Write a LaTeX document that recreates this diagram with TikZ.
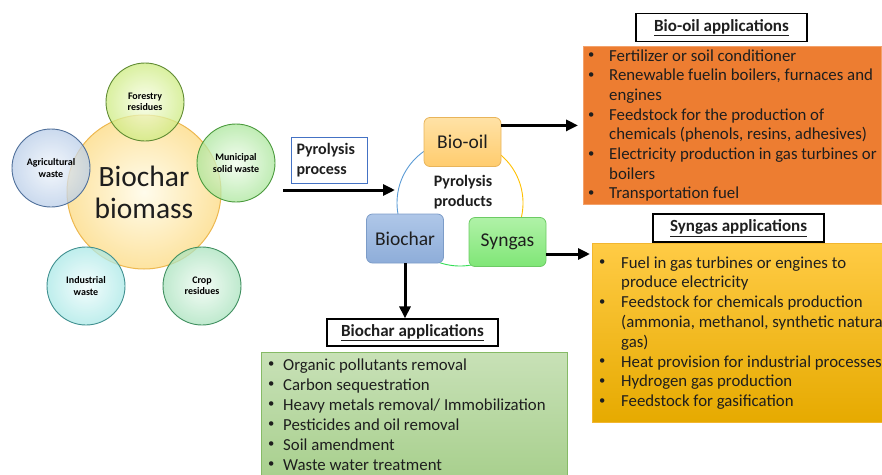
\documentclass[tikz,border=0pt]{standalone}
\usepackage{fontspec}
\setmainfont{Carlito}
\usetikzlibrary{arrows.meta}
\definecolor{mainIn}{HTML}{FFFCEC}
\definecolor{mainOut}{HTML}{FDE3A0}
\definecolor{mainB}{HTML}{EDB850}
\definecolor{forIn}{HTML}{F8FDE6}
\definecolor{forOut}{HTML}{CDEB80}
\definecolor{forB}{HTML}{5F8A32}
\definecolor{munIn}{HTML}{F0FCEC}
\definecolor{munOut}{HTML}{ABE69C}
\definecolor{munB}{HTML}{4A9A3C}
\definecolor{agrIn}{HTML}{F0F5FB}
\definecolor{agrOut}{HTML}{B9CDE8}
\definecolor{agrB}{HTML}{4F6F9A}
\definecolor{indIn}{HTML}{F0FCFC}
\definecolor{indOut}{HTML}{A9E8E6}
\definecolor{indB}{HTML}{3F8F8F}
\definecolor{cropIn}{HTML}{F0FBF3}
\definecolor{cropOut}{HTML}{A9E2BD}
\definecolor{cropB}{HTML}{3F8F5F}
\definecolor{pblue}{HTML}{4472C4}
\definecolor{oilTop}{HTML}{FFE2A6}
\definecolor{oilBot}{HTML}{FFCC6E}
\definecolor{oilB}{HTML}{E8B45A}
\definecolor{charTop}{HTML}{AFC7E8}
\definecolor{charBot}{HTML}{8EADD9}
\definecolor{charB}{HTML}{7C9CC8}
\definecolor{synTop}{HTML}{B0F2A8}
\definecolor{synBot}{HTML}{7FE676}
\definecolor{synB}{HTML}{6CCB64}
\definecolor{cblue}{HTML}{5B9BD5}
\definecolor{corange}{HTML}{FFC000}
\definecolor{cgreen}{HTML}{33DD55}
\definecolor{oilApp}{HTML}{ED7D31}
\definecolor{oilAppB}{HTML}{F3A16A}
\definecolor{synAppTop}{HTML}{FFCB45}
\definecolor{synAppBot}{HTML}{E6AA00}
\definecolor{synAppB}{HTML}{F2B630}
\definecolor{charAppTop}{HTML}{C8E1B7}
\definecolor{charAppBot}{HTML}{A7CF8C}
\definecolor{charAppB}{HTML}{86BA66}
\definecolor{txt}{HTML}{1E1E1E}
\newcommand{\smbul}{\raisebox{0.12em}{\scalebox{0.75}{\textbullet}}}
\begin{document}
\begin{tikzpicture}[x=1pt,y=-1pt,
  src/.style={circle, minimum size=78pt, inner sep=0pt, align=center,
    font=\bfseries\fontsize{10}{11.5}\selectfont, line width=0.9pt,
    fill opacity=0.75, draw opacity=1, text opacity=1},
  prod/.style={rounded corners=6pt, minimum width=77pt, minimum height=49pt,
    inner sep=0pt, font=\fontsize{19.5}{22}\selectfont, line width=0.8pt, text=txt},
  titlebox/.style={draw=black, line width=1.2pt, fill=white, minimum width=171pt,
    minimum height=28pt, inner sep=0pt, font=\bfseries\fontsize{17}{19}\selectfont, text=txt},
  arr/.style={line width=3pt, -{Triangle[length=12pt,width=11pt]}},
  listtxt/.style={anchor=base west, inner sep=0pt, text=txt},
  appbox/.style={anchor=north west, inner sep=0pt, line width=0.8pt}
]
\useasboundingbox (0,0) rectangle (882,474);

% ---- biomass circles ----
\node[circle, minimum size=154pt, inner sep=0pt, inner color=mainIn, outer color=mainOut,
  draw=mainB, line width=1pt, align=center, font=\fontsize{29.5}{32}\selectfont, text=txt]
  (biomass) at (144,192) {Biochar\\biomass};
\node[src, inner color=forIn, outer color=forOut, draw=forB] (forest) at (145,102) {Forestry\\residues};
\node[src, inner color=munIn, outer color=munOut, draw=munB] (munic) at (236,163) {Municipal\\solid waste};
\node[src, inner color=agrIn, outer color=agrOut, draw=agrB] (agri) at (51,168) {Agricultural\\waste};
\node[src, inner color=indIn, outer color=indOut, draw=indB] (indus) at (86,286) {Industrial\\waste};
\node[src, inner color=cropIn, outer color=cropOut, draw=cropB] (crop) at (202,286) {Crop\\residues};

% ---- pyrolysis process ----
\node[draw=pblue, line width=1pt, text width=66pt, inner sep=5pt, minimum height=46pt,
  align=left, font=\bfseries\fontsize{16}{20}\selectfont, text=txt]
  (pproc) at (329.5,160) {Pyrolysis\\process};
\coordinate (a0) at (283,190);
\coordinate (a1) at (395,190);
\draw[arr] (a0) -- (a1);

% ---- pyrolysis cycle ----
\coordinate (cyc) at (460,203);
\draw[cblue, line width=0.9pt] (cyc) ++(-90:63) arc[start angle=-90, end angle=-210, radius=63];
\draw[corange, line width=0.9pt] (cyc) ++(30:63) arc[start angle=30, end angle=-90, radius=63];
\draw[cgreen, line width=0.9pt] (cyc) ++(-210:63) arc[start angle=-210, end angle=-330, radius=63];
\node[align=center, font=\bfseries\fontsize{16}{20}\selectfont, text=txt] (pprod) at (463,192) {Pyrolysis\\products};

\node[prod, top color=oilTop, bottom color=oilBot, draw=oilB] (oil) at (462.5,142) {Bio-oil};
\node[prod, top color=charTop, bottom color=charBot, draw=charB] (char) at (405,238.5) {Biochar};
\node[prod, top color=synTop, bottom color=synBot, draw=synB] (syn) at (507.5,242) {Syngas};

% ---- Bio-oil applications ----
\node[titlebox] (oilT) at (721.5,27.5) {\underline{Bio-oil applications}};
\node[appbox, fill=oilApp, draw=oilAppB, minimum width=298pt, minimum height=158pt] (oilapp) at (583,46) {};
\node[listtxt, font=\fontsize{16.8}{19.7}\selectfont] (oiltxt) at (588,61) {\begin{tabular}[t]{@{}p{21pt}@{}l@{}}
\smbul & Fertilizer or soil conditioner\\
\smbul & Renewable fuelin boilers, furnaces and\\
 & engines\\
\smbul & Feedstock for the production of\\
 & chemicals (phenols, resins, adhesives)\\
\smbul & Electricity production in gas turbines or\\
 & boilers\\
\smbul & Transportation fuel
\end{tabular}};

% ---- Syngas applications ----
\node[titlebox] (synT) at (738.5,228) {\underline{Syngas applications}};
\node[appbox, top color=synAppTop, bottom color=synAppBot, draw=synAppB, minimum width=300pt, minimum height=179pt] (synapp) at (592,243) {};
\node[listtxt, font=\fontsize{16.8}{19.8}\selectfont] (syntxt) at (599,268) {\begin{tabular}[t]{@{}p{22pt}@{}l@{}}
\smbul & Fuel in gas turbines or engines to\\
 & produce electricity\\
\smbul & Feedstock for chemicals production\\
 & (ammonia, methanol, synthetic natural\\
 & gas)\\
\smbul & Heat provision for industrial processes\\
\smbul & Hydrogen gas production\\
\smbul & Feedstock for gasification
\end{tabular}};

% ---- Biochar applications ----
\node[titlebox, minimum height=27pt] (charT) at (412.5,332.5) {\underline{Biochar applications}};
\node[appbox, top color=charAppTop, bottom color=charAppBot, draw=charAppB, minimum width=306pt, minimum height=130pt] (charapp) at (261,352) {};
\node[listtxt, font=\fontsize{16.8}{20}\selectfont] (chartxt) at (268,370) {\begin{tabular}[t]{@{}p{15pt}@{}l@{}}
\smbul & Organic pollutants removal\\
\smbul & Carbon sequestration\\
\smbul & Heavy metals removal/ Immobilization\\
\smbul & Pesticides and oil removal\\
\smbul & Soil amendment\\
\smbul & Waste water treatment
\end{tabular}};

% ---- arrows to applications ----
\draw[arr, shorten >=5pt] (oil.east |- oilapp.west) -- (oilapp.west);
\draw[arr, shorten >=2pt] ([yshift=-12pt]syn.east) -- ([yshift=-12pt]syn.east -| synapp.west);
\draw[arr] (char.south) -- (char.south |- charT.north);
\end{tikzpicture}
\end{document}
